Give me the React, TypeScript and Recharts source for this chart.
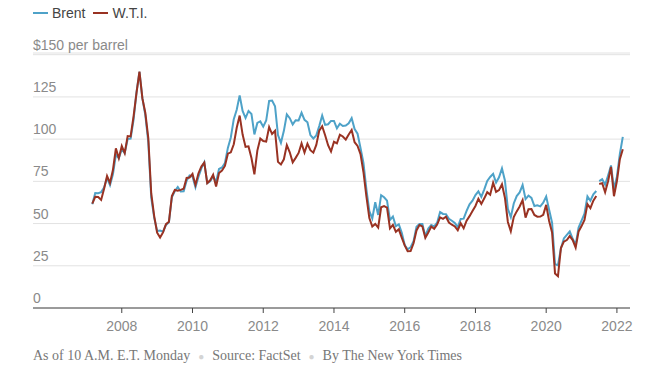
import React from 'react';
import { CartesianGrid, Line, LineChart, XAxis, YAxis } from 'recharts';

// month-end closes, Feb 2007 .. Feb 2022 (last point is the Monday 10 A.M. quote)
const firstYear = 2007;
const firstMonth = 2;

const brent = [
  61.5, 68.1, 68.0, 68.6, 71.4, 77.0, 72.7, 79.2, 90.7, 88.8, 93.9,
  91.8, 100.1, 100.3, 111.4, 127.8, 139.8, 124.1, 114.1, 98.2, 65.3, 53.5, 45.6,
  45.9, 45.2, 49.2, 50.8, 65.6, 69.3, 71.7, 69.0, 69.1, 75.3, 78.5, 77.9,
  71.5, 77.6, 82.7, 86.2, 74.0, 75.0, 78.0, 74.7, 82.3, 83.2, 85.9, 94.8,
  101.0, 111.8, 117.4, 125.9, 116.7, 112.5, 116.7, 114.9, 102.8, 109.6, 110.5, 107.4,
  111.0, 122.7, 122.9, 119.5, 102.4, 97.8, 104.9, 114.6, 112.4, 108.7, 111.2, 111.1,
  115.6, 111.4, 110.0, 102.4, 100.4, 102.2, 107.7, 114.0, 108.4, 108.8, 110.8, 110.8,
  106.4, 109.1, 107.8, 108.1, 109.4, 112.4, 106.0, 103.2, 94.7, 85.9, 70.2, 57.3,
  53.0, 62.6, 55.1, 66.8, 65.6, 63.6, 52.2, 54.2, 48.4, 49.6, 44.6, 37.3,
  34.7, 36.0, 39.6, 48.1, 49.7, 49.7, 42.5, 47.0, 49.1, 48.3, 50.5, 56.8,
  55.7, 55.6, 52.8, 51.7, 50.3, 47.9, 52.7, 52.9, 57.5, 61.4, 63.6, 66.9,
  69.1, 65.8, 70.3, 75.2, 77.6, 79.4, 74.3, 77.4, 82.7, 75.5, 58.7, 53.8,
  61.9, 66.3, 68.4, 72.8, 64.5, 66.6, 65.2, 60.4, 60.8, 60.2, 62.4, 66.0,
  58.2, 50.5, 26.0, 25.3, 35.3, 41.2, 43.3, 45.3, 41.0, 37.5, 47.6, 51.8,
  55.9, 66.1, 63.5, 67.3, 69.3, 75.1, 76.3, 73.0, 78.5, 84.4, 70.6, 77.8,
  91.2, 101.3,
];

const wti = [
  61.79, 65.87, 65.71, 64.01, 70.68, 78.21, 74.04, 81.66, 94.53, 88.71, 95.98,
  91.75, 101.84, 101.58, 113.46, 127.35, 140.0, 124.08, 115.46, 100.64, 67.81, 54.43, 44.6,
  41.68, 44.76, 49.66, 51.12, 66.31, 69.89, 69.45, 69.96, 70.61, 77.0, 77.28, 79.36,
  72.89, 79.66, 83.76, 86.15, 73.97, 75.63, 78.95, 71.92, 79.97, 81.43, 84.11, 91.38,
  92.19, 96.97, 106.72, 113.93, 102.7, 95.42, 95.7, 88.81, 79.2, 93.19, 100.36, 98.83,
  98.48, 107.07, 103.02, 104.87, 86.53, 84.96, 88.06, 96.47, 92.19, 86.24, 88.91, 91.82,
  97.49, 92.05, 97.23, 93.46, 91.97, 96.56, 105.03, 107.65, 102.33, 96.38, 92.72, 98.42,
  97.49, 102.59, 101.58, 99.74, 102.71, 105.37, 98.17, 95.96, 91.16, 80.54, 66.15, 53.27,
  48.24, 49.76, 47.6, 59.63, 60.3, 59.47, 47.12, 49.2, 45.09, 46.59, 41.65, 37.04,
  33.62, 33.75, 38.34, 45.92, 49.1, 48.33, 41.6, 44.7, 48.24, 46.86, 49.44, 53.72,
  52.81, 54.01, 50.6, 49.33, 48.32, 46.04, 50.17, 47.23, 51.67, 54.38, 57.4, 60.42,
  64.73, 61.64, 64.94, 68.57, 67.04, 74.15, 68.76, 69.8, 73.25, 65.31, 50.93, 45.41,
  53.79, 57.22, 60.14, 63.91, 53.5, 58.47, 58.58, 55.1, 54.07, 54.18, 55.17, 61.06,
  51.56, 44.76, 20.48, 18.84, 35.49, 39.27, 40.27, 42.61, 40.22, 35.79, 45.34, 48.52,
  52.2, 61.5, 59.16, 63.58, 66.32, 73.47, 73.95, 68.5, 75.03, 83.57, 66.18, 75.21,
  88.15, 94.0,
];

// the source has a break between May and June 2021
const gapAfter = { year: 2021, month: 5 };

const yTicks = [0, 25, 50, 75, 100, 125, 150];
const xTicks = [2008, 2010, 2012, 2014, 2016, 2018, 2020, 2022];

const BLUE = '#4ea2c8';
const RED = '#993222';
const SANS = '"Liberation Sans", Arial, sans-serif';
const SERIF = '"Liberation Serif", Georgia, serif';

const data: { t: number; brent: number | null; wti: number | null }[] = [];
brent.forEach((b, i) => {
  const m = firstMonth + i;
  const year = firstYear + Math.floor((m - 1) / 12);
  const month = ((m - 1) % 12) + 1;
  data.push({ t: firstYear + m / 12, brent: b, wti: wti[i] });
  if (year === gapAfter.year && month === gapAfter.month) {
    data.push({ t: firstYear + (m + 0.5) / 12, brent: null, wti: null });
  }
});

// labels sit inside the plot, left aligned above their gridline
const renderYTick = (props: any) => {
  const { y, payload } = props;
  const label = payload.value === 150 ? '$150 per barrel' : String(payload.value);
  return (
    <text x={33} y={y - 5} fill="#8a8a8a" fontSize={14} fontFamily={SANS} textAnchor="start">
      {label}
    </text>
  );
};

const Swatch = ({ color }: { color: string }) => (
  <span
    style={{
      display: 'inline-block',
      width: 15,
      height: 2,
      background: color,
      verticalAlign: 'middle',
      marginRight: 4,
      marginTop: -2,
    }}
  />
);

const Dot = () => <span style={{ color: '#d4d4d4', margin: '0 8px', fontSize: 10 }}>●</span>;

export default function App() {
  return (
    <div style={{ position: 'absolute', left: 0, top: 0, width: 645, height: 375, background: '#fff' }}>
      <div
        style={{
          position: 'absolute',
          left: 33,
          top: 5,
          fontFamily: SANS,
          fontSize: 14,
          color: '#444',
          whiteSpace: 'nowrap',
        }}
      >
        <Swatch color={BLUE} />
        <span style={{ marginRight: 8 }}>Brent</span>
        <Swatch color={RED} />
        <span>W.T.I.</span>
      </div>

      <LineChart width={645} height={375} data={data} margin={{ top: 53, right: 15, bottom: 40, left: 32 }}>
        <CartesianGrid vertical={false} stroke="#e2e2e2" />
        <XAxis
          type="number"
          dataKey="t"
          domain={[2005.49, 2022.37]}
          ticks={xTicks}
          allowDataOverflow
          height={27}
          tickSize={5}
          tickMargin={8}
          axisLine={{ stroke: '#444' }}
          tickLine={{ stroke: '#444' }}
          tick={{ fill: '#8a8a8a', fontSize: 14, fontFamily: SANS }}
        />
        <YAxis
          domain={[0, 151]}
          ticks={yTicks}
          allowDataOverflow
          width={1}
          tickSize={0}
          tickMargin={0}
          axisLine={false}
          tickLine={false}
          tick={renderYTick}
        />
        <Line
          type="linear"
          dataKey="brent"
          stroke={BLUE}
          strokeWidth={2}
          dot={false}
          isAnimationActive={false}
        />
        <Line
          type="linear"
          dataKey="wti"
          stroke={RED}
          strokeWidth={2}
          dot={false}
          isAnimationActive={false}
        />
      </LineChart>

      <div
        style={{
          position: 'absolute',
          left: 33,
          top: 348,
          fontFamily: SERIF,
          fontSize: 14,
          color: '#777',
          whiteSpace: 'nowrap',
        }}
      >
        As of 10 A.M. E.T. Monday
        <Dot />
        Source: FactSet
        <Dot />
        By The New York Times
      </div>
    </div>
  );
}
